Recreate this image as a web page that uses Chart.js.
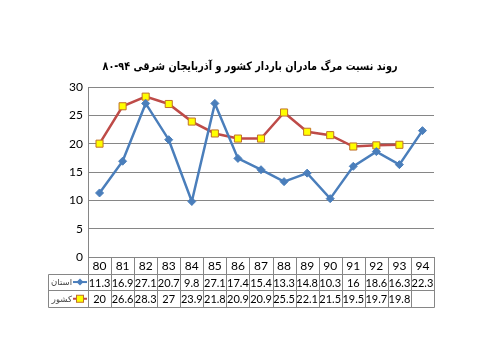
<!DOCTYPE html>
<html>
<head>
<meta charset="utf-8">
<script src="https://cdn.jsdelivr.net/npm/chart.js@4.4.1/dist/chart.umd.min.js"></script>
<style>
    html, body { margin: 0; padding: 0; background: #fff; }
    #wrap { width: 480px; height: 360px; }
</style>
</head>
<body>
<div id="wrap"><canvas id="line-chart" width="480" height="360"></canvas></div>
<script>
// data
const titleText = "روند نسبت مرگ مادران باردار کشور و آذربایجان شرقی ۹۴-۸۰";
const years = ["80", "81", "82", "83", "84", "85", "86", "87", "88", "89", "90", "91", "92", "93", "94"];
const provinceName = "استان";
const provinceValues = [11.3, 16.9, 27.1, 20.7, 9.8, 27.1, 17.4, 15.4, 13.3, 14.8, 10.3, 16, 18.6, 16.3, 22.3];
const countryName = "کشور";
const countryValues = [20, 26.6, 28.3, 27, 23.9, 21.8, 20.9, 20.9, 25.5, 22.1, 21.5, 19.5, 19.7, 19.8, null];
const yMin = 0, yMax = 30, yStep = 5;

const gridColor = "#868686";
const blue = "#4A7EBB";
const red = "#BE4B48";
const yellow = "#FFFF00";
const squareBorder = "#C0702A";

// table under the chart (categories + values + legend)
const dataTable = {
    id: "dataTable",
    afterDraw(chart) {
        const ctx = chart.ctx;
        const x = chart.scales.x;
        const area = chart.chartArea;
        const n = years.length;
        const colW = (area.right - area.left) / n;
        const rowH = 16.7;
        const top = area.bottom;
        const r1 = top + rowH, r2 = top + rowH * 2, r3 = top + rowH * 3;
        const legendLeft = 48;
        const px = v => Math.round(v) + 0.5;

        ctx.save();
        ctx.strokeStyle = gridColor;
        ctx.lineWidth = 1;
        ctx.beginPath();
        // horizontal lines
        ctx.moveTo(px(area.left), px(top)); ctx.lineTo(px(area.right), px(top));
        [r1, r2, r3].forEach(y => {
            ctx.moveTo(px(legendLeft), px(y)); ctx.lineTo(px(area.right), px(y));
        });
        // vertical lines
        for (let i = 0; i <= n; i++) {
            const cx = px(area.left + i * colW);
            ctx.moveTo(cx, px(top)); ctx.lineTo(cx, px(r3));
        }
        ctx.moveTo(px(legendLeft), px(r1)); ctx.lineTo(px(legendLeft), px(r3));
        ctx.stroke();

        // cell text
        ctx.fillStyle = "#000";
        ctx.font = "11px Lato";
        ctx.textAlign = "center";
        ctx.textBaseline = "middle";
        years.forEach((yr, i) => {
            const cx = x.getPixelForValue(i);
            ctx.font = "12px Lato";
            ctx.fillText(yr, cx, top + rowH / 2 + 1);
            ctx.font = "11px Lato";
            if (provinceValues[i] !== null) ctx.fillText(String(provinceValues[i]), cx, r1 + rowH / 2 + 1, colW - 1);
            if (countryValues[i] !== null) ctx.fillText(String(countryValues[i]), cx, r2 + rowH / 2 + 1, colW - 1);
        });

        // legend keys
        ctx.font = "8.5px 'DejaVu Sans'";
        ctx.fillStyle = "#444";
        ctx.textAlign = "right";
        ctx.fillText(provinceName, 72, r1 + rowH / 2 + 1, 22);
        ctx.fillText(countryName, 72, r2 + rowH / 2 + 1, 22);

        const ly1 = r1 + rowH / 2, ly2 = r2 + rowH / 2;
        ctx.lineWidth = 2;
        ctx.strokeStyle = blue;
        ctx.beginPath(); ctx.moveTo(73, ly1); ctx.lineTo(87, ly1); ctx.stroke();
        ctx.fillStyle = blue;
        ctx.beginPath();
        ctx.moveTo(80, ly1 - 3.5); ctx.lineTo(83.5, ly1); ctx.lineTo(80, ly1 + 3.5); ctx.lineTo(76.5, ly1);
        ctx.closePath(); ctx.fill();

        ctx.strokeStyle = red;
        ctx.beginPath(); ctx.moveTo(73, ly2); ctx.lineTo(87, ly2); ctx.stroke();
        ctx.lineWidth = 1;
        ctx.fillStyle = yellow;
        ctx.strokeStyle = squareBorder;
        ctx.fillRect(76.5, ly2 - 3.5, 7, 7);
        ctx.strokeRect(76.5, ly2 - 3.5, 7, 7);

        // title
        ctx.fillStyle = "#000";
        ctx.font = "bold 11.5px 'DejaVu Sans'";
        ctx.textAlign = "center";
        ctx.direction = "rtl";
        ctx.fillText(titleText, 250, 67, 295);
        ctx.restore();
    }
};

const ctx = document.getElementById("line-chart").getContext("2d");
const myChart = new Chart(ctx, {
    type: "line",
    data: {
        labels: years,
        datasets: [{
            label: provinceName,
            data: provinceValues,
            borderColor: blue,
            backgroundColor: blue,
            borderWidth: 2.5,
            pointStyle: "rectRot",
            pointRadius: 4,
            pointBorderWidth: 1,
            tension: 0
        }, {
            label: countryName,
            data: countryValues,
            borderColor: red,
            backgroundColor: yellow,
            borderWidth: 2.5,
            pointStyle: "rect",
            pointRadius: 5,
            pointBorderColor: squareBorder,
            pointBorderWidth: 1,
            tension: 0
        }]
    },
    options: {
        responsive: false,
        animation: false,
        layout: { padding: { left: 48, right: 46, top: 87, bottom: 103 } },
        plugins: {
            legend: { display: false },
            title: { display: false },
            tooltip: { enabled: false }
        },
        scales: {
            x: {
                offset: true,
                grid: { display: false },
                border: { color: gridColor },
                ticks: { display: false },
                afterFit: s => { s.height = 0; }
            },
            y: {
                min: yMin,
                max: yMax,
                ticks: { stepSize: yStep, padding: 5, color: "#000", font: { family: "Lato", size: 12 } },
                grid: { color: gridColor, drawTicks: false },
                border: { color: gridColor },
                afterFit: s => { s.width = 40; }
            }
        }
    },
    plugins: [dataTable]
});
</script>
</body>
</html>
